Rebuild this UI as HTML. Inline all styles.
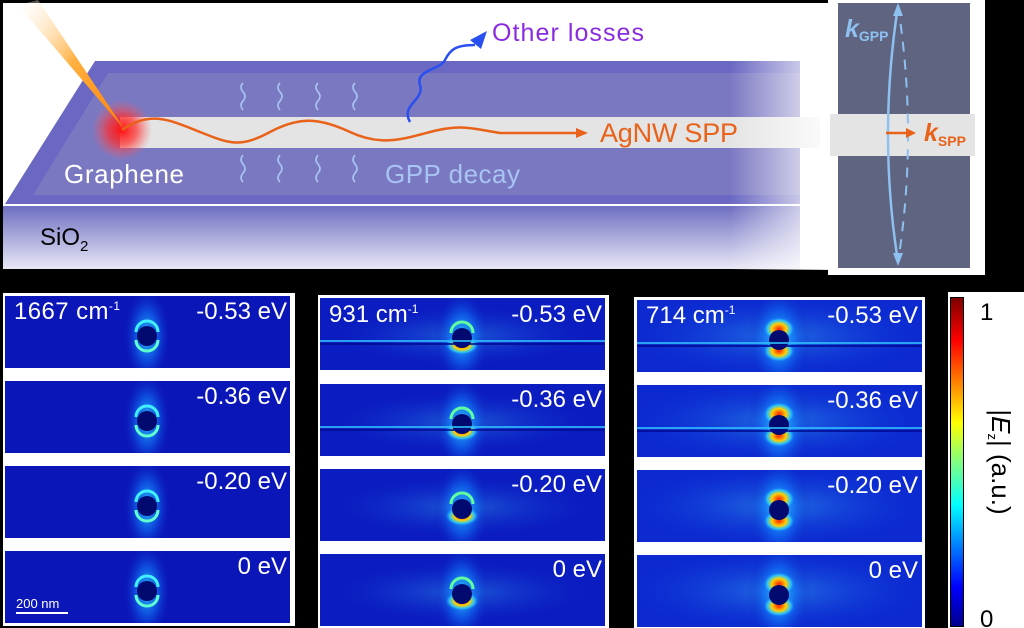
<!DOCTYPE html>
<html><head><meta charset="utf-8"><style>
html,body{margin:0;padding:0;background:#000;}
svg{display:block;font-family:"Liberation Sans",sans-serif;}
</style></head><body>
<svg width="1024" height="628" viewBox="0 0 1024 628" xmlns="http://www.w3.org/2000/svg">
<defs>
<linearGradient id="fadeR" x1="0" x2="1" y1="0" y2="0">
<stop offset="0" stop-color="#fff" stop-opacity="0"/><stop offset="1" stop-color="#fff" stop-opacity="1"/></linearGradient>
<linearGradient id="sio2" x1="0" x2="0" y1="0" y2="1">
<stop offset="0" stop-color="#6e6ec2"/><stop offset="1" stop-color="#e8e8f6"/></linearGradient>
<radialGradient id="redglow"><stop offset="0" stop-color="#ff1010"/><stop offset="0.5" stop-color="#ff3030" stop-opacity="0.7"/><stop offset="1" stop-color="#ff6060" stop-opacity="0"/></radialGradient>
<linearGradient id="beam" x1="0" x2="1" y1="0" y2="1"><stop offset="0" stop-color="#fff" stop-opacity="0.2"/><stop offset="0.5" stop-color="#ffb040"/><stop offset="1" stop-color="#ff8000"/></linearGradient>
<radialGradient id="gv"><stop offset="0" stop-color="#30e0ff" stop-opacity="0.9"/><stop offset="0.5" stop-color="#1080ff" stop-opacity="0.5"/><stop offset="1" stop-color="#0b16b8" stop-opacity="0"/></radialGradient>
<radialGradient id="gh"><stop offset="0" stop-color="#40d0ff" stop-opacity="0.7"/><stop offset="1" stop-color="#1040e0" stop-opacity="0"/></radialGradient>
<radialGradient id="hot"><stop offset="0" stop-color="#ff2000"/><stop offset="0.45" stop-color="#ffd000"/><stop offset="0.75" stop-color="#30e0ff" stop-opacity="0.7"/><stop offset="1" stop-color="#1060ff" stop-opacity="0"/></radialGradient>
<linearGradient id="jet" x1="0" x2="0" y1="1" y2="0">
<stop offset="0" stop-color="#00008f"/><stop offset="0.12" stop-color="#0000ff"/><stop offset="0.37" stop-color="#00ffff"/><stop offset="0.5" stop-color="#80ff80"/><stop offset="0.62" stop-color="#ffff00"/><stop offset="0.87" stop-color="#ff0000"/><stop offset="1" stop-color="#800000"/></linearGradient>
<clipPath id="pc"><rect x="0" y="0" width="285" height="72"/></clipPath>
<g id="weak" clip-path="url(#pc)">
<rect width="285" height="72" fill="#0b16b8"/>
<ellipse cx="142" cy="40" rx="24" ry="50" fill="url(#gv)"/>
<path d="M131 36 A11 11 0 0 1 153 36" stroke="#40f0ff" stroke-width="3" fill="none"/>
<path d="M131 44 A11 11 0 0 0 153 44" stroke="#60ffd0" stroke-width="3" fill="none"/>
<circle cx="142" cy="40" r="10" fill="#020a70"/>
</g>
<g id="mid" clip-path="url(#pc)">
<rect width="285" height="72" fill="#0b1cc0"/>
<ellipse cx="142" cy="38" rx="130" ry="30" fill="url(#gh)" opacity="0.5"/>
<ellipse cx="142" cy="40" rx="28" ry="50" fill="url(#gv)"/>
<ellipse cx="142" cy="47" rx="17" ry="10" fill="url(#hot)"/>
<path d="M131 35 A11 11 0 0 1 153 35" stroke="#60ffa0" stroke-width="3" fill="none"/>
<circle cx="142" cy="40" r="10" fill="#020a70"/>
</g>
<g id="strong" clip-path="url(#pc)">
<rect width="285" height="72" fill="#0c2ad0"/>
<ellipse cx="142" cy="36" rx="150" ry="40" fill="url(#gh)" opacity="0.6"/>
<ellipse cx="142" cy="40" rx="32" ry="55" fill="url(#gv)"/>
<ellipse cx="142" cy="29" rx="16" ry="12" fill="url(#hot)"/>
<ellipse cx="142" cy="51" rx="16" ry="11" fill="url(#hot)"/>
<circle cx="142" cy="40" r="10" fill="#020a70"/>
</g>
<g id="hline"><rect x="0" y="42" width="285" height="2" fill="#30c0ff" opacity="0.8"/><rect x="0" y="45" width="285" height="2" fill="#000a90" opacity="0.8"/></g>
</defs>

<!-- top panel -->
<rect x="3" y="3" width="840" height="266" fill="#fff"/>
<polygon points="95,61 800,61 800,204 5,204" fill="#6a68c2"/>
<polygon points="108,73 800,73 800,195 33,195" fill="#7b78c2"/>
<rect x="3" y="206" width="797" height="63" fill="url(#sio2)"/>
<rect x="3" y="204" width="797" height="2" fill="#fff"/>
<rect x="120" y="117" width="700" height="31" fill="#e4e4e4"/>
<rect x="730" y="55" width="110" height="215" fill="url(#fadeR)"/>
<circle cx="122" cy="130" r="30" fill="url(#redglow)"/>
<polygon points="18,5 38,0 125,130" fill="url(#beam)"/>
<path d="M122 130 C150 110,170 120,200 132 S240 148,270 132 S320 118,350 132 S400 140,430 132 S470 128,500 133 L578 133" stroke="#e8621a" stroke-width="2.5" fill="none"/>
<polygon points="588,133 576,128 576,138" fill="#e8621a"/>
<text x="600" y="142" font-size="27" fill="#e8621a" textLength="138">AgNW SPP</text>
<path d="M410 122 C400 105,425 100,420 85 S440 70,445 60 S455 45,475 45" stroke="#2a4ff0" stroke-width="2.5" fill="none"/>
<polygon points="487,31 470,40 481,49" fill="#2a4ff0"/>
<text x="492" y="41" font-size="25" fill="#8a2be2" textLength="152">Other losses</text>
<text x="64" y="183" font-size="26" fill="#fff" textLength="120">Graphene</text>
<text x="385" y="183" font-size="26" fill="#a7c4f2" textLength="135">GPP decay</text>
<g stroke="#a7c4f2" stroke-width="1.6" fill="none">
<path d="M243 110 q-4 -5 0 -9 q4 -5 0 -9 q-4 -5 0 -9"/><path d="M280 110 q-4 -5 0 -9 q4 -5 0 -9 q-4 -5 0 -9"/>
<path d="M318 110 q-4 -5 0 -9 q4 -5 0 -9 q-4 -5 0 -9"/><path d="M355 110 q-4 -5 0 -9 q4 -5 0 -9 q-4 -5 0 -9"/>
<path d="M243 155 q-4 5 0 9 q4 5 0 9 q-4 5 0 9"/><path d="M280 155 q-4 5 0 9 q4 5 0 9 q-4 5 0 9"/>
<path d="M318 155 q-4 5 0 9 q4 5 0 9 q-4 5 0 9"/><path d="M355 155 q-4 5 0 9 q4 5 0 9 q-4 5 0 9"/>
</g>
<text x="40" y="245" font-size="24" fill="#000">SiO<tspan font-size="15" dy="6">2</tspan></text>

<!-- inset -->
<rect x="828" y="0" width="157" height="275" fill="#fff"/>
<rect x="838" y="3" width="132" height="265" fill="#5f6480"/>
<rect x="830" y="114" width="145" height="42" fill="#e4e4e4"/>
<path d="M898 6 Q878 135 898 262" stroke="#8ec0f0" stroke-width="2.5" fill="none"/>
<path d="M898 6 Q918 135 898 262" stroke="#8ec0f0" stroke-width="2" stroke-dasharray="10,8" fill="none"/>
<polygon points="898,3 893,16 903,16" fill="#8ec0f0"/><polygon points="898,266 893,253 903,253" fill="#8ec0f0"/>
<line x1="886" y1="133" x2="908" y2="133" stroke="#e8621a" stroke-width="2.5"/><polygon points="916,133 906,128 906,138" fill="#e8621a"/>
<text x="845" y="37" font-size="25" font-style="italic" font-weight="bold" fill="#8ec0f0">k<tspan font-size="14" font-style="normal" dy="4">GPP</tspan></text>
<text x="924" y="141" font-size="25" font-style="italic" font-weight="bold" fill="#e8621a">k<tspan font-size="14" font-style="normal" dy="5">SPP</tspan></text>

<!-- bottom columns -->
<rect x="3" y="293" width="292" height="333" fill="#fff"/>
<rect x="318" y="295" width="291" height="333" fill="#fff"/>
<rect x="634" y="297" width="291" height="331" fill="#fff"/>

<use href="#weak" x="5" y="296"/><use href="#weak" x="5" y="381"/><use href="#weak" x="5" y="466"/><use href="#weak" x="5" y="551"/>
<g transform="translate(320,298)"><use href="#mid"/><use href="#hline"/></g>
<g transform="translate(320,384)"><use href="#mid"/><use href="#hline"/></g>
<use href="#mid" x="320" y="469"/><use href="#mid" x="320" y="554"/>
<g transform="translate(637,300)"><use href="#strong"/><use href="#hline"/></g>
<g transform="translate(637,385)"><use href="#strong"/><use href="#hline"/></g>
<use href="#strong" x="637" y="470"/><use href="#strong" x="637" y="555"/>

<g fill="#fff" font-size="24">
<text x="14" y="319" textLength="106">1667 cm<tspan font-size="12" dy="-9">-1</tspan></text>
<text x="287" y="319" text-anchor="end">-0.53 eV</text>
<text x="287" y="404" text-anchor="end">-0.36 eV</text>
<text x="287" y="489" text-anchor="end">-0.20 eV</text>
<text x="287" y="574" text-anchor="end">0 eV</text>
<text x="329" y="322">931 cm<tspan font-size="12" dy="-9">-1</tspan></text>
<text x="602" y="322" text-anchor="end">-0.53 eV</text>
<text x="602" y="407" text-anchor="end">-0.36 eV</text>
<text x="602" y="492" text-anchor="end">-0.20 eV</text>
<text x="602" y="577" text-anchor="end">0 eV</text>
<text x="646" y="323">714 cm<tspan font-size="12" dy="-9">-1</tspan></text>
<text x="918" y="323" text-anchor="end">-0.53 eV</text>
<text x="918" y="408" text-anchor="end">-0.36 eV</text>
<text x="918" y="493" text-anchor="end">-0.20 eV</text>
<text x="918" y="578" text-anchor="end">0 eV</text>
<text x="16" y="608" font-size="13">200 nm</text>
</g>
<rect x="16" y="612" width="52" height="2" fill="#fff"/>

<!-- colorbar -->
<rect x="948" y="292" width="76" height="336" fill="#fff"/>
<rect x="950" y="297" width="14" height="330" fill="#000"/>
<rect x="951" y="298" width="12" height="328" fill="url(#jet)"/>
<text x="980" y="320" font-size="24" fill="#000">1</text>
<text x="980" y="627" font-size="24" fill="#000">0</text>
<text transform="translate(992,462) rotate(90)" font-size="26" fill="#000" text-anchor="middle">|<tspan font-style="italic">E</tspan><tspan font-size="13" dy="4">z</tspan><tspan dy="-4">| (a.u.)</tspan></text>
</svg>
</body></html>
